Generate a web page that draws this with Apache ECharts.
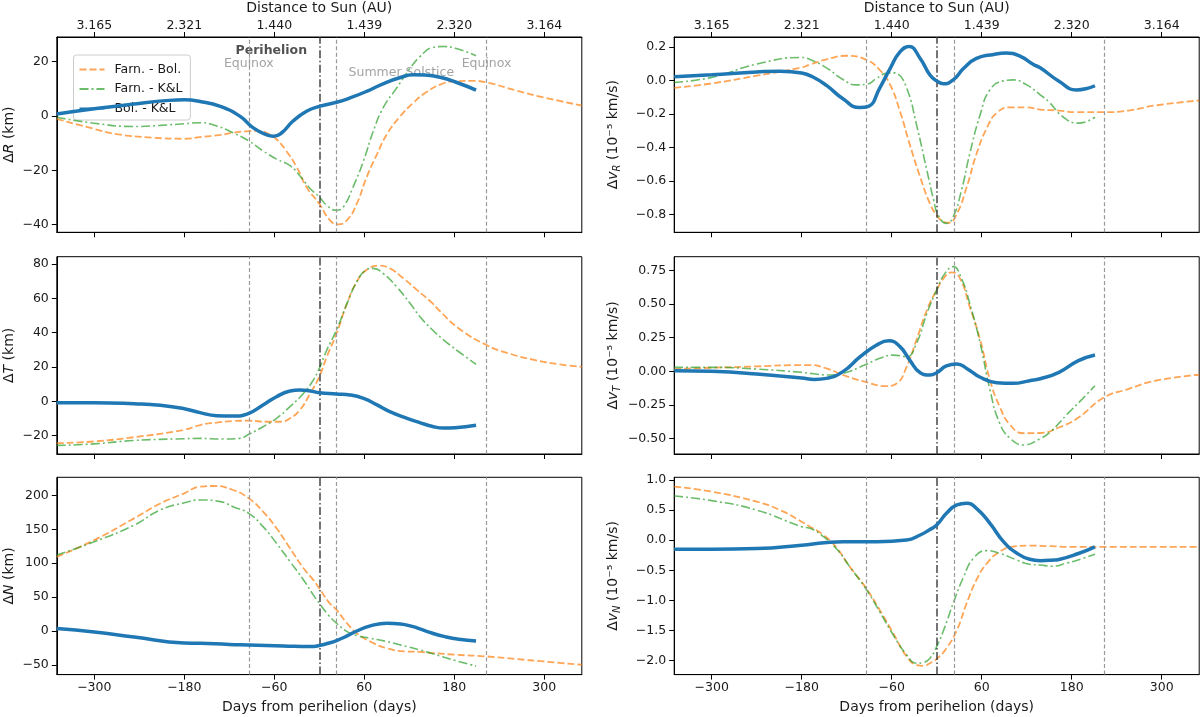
<!DOCTYPE html>
<html>
<head>
<meta charset="utf-8">
<title>Orbit differences around perihelion</title>
<script src="https://cdn.jsdelivr.net/npm/echarts@6/dist/echarts.min.js"></script>
<style>
html, body { margin: 0; padding: 0; background: #fff; }
#chart { width: 1200px; height: 717px; }
</style>
</head>
<body>
<div id="chart"></div>
<script>
// shared x ticks (days from perihelion) and the distance labels drawn on top
const dayTicks = [-300, -180, -60, 60, 180, 300]
const distLabels = ['3.165', '2.321', '1.440', '1.439', '2.320', '3.164']

// event dates in days from perihelion
const equinoxDays = [-94, 223]
const solsticeDay = 23
const perihelionDay = 0

const seriesNames = ['Farn. - Bol.', 'Farn. - K&L', 'Bol. - K&L']

// y ticks per panel
const rTicks = [-40, -20, 0, 20]
const tTicks = [-20, 0, 20, 40, 60, 80]
const nTicks = [-50, 0, 50, 100, 150, 200]
const vrTicks = [-0.8, -0.6, -0.4, -0.2, 0, 0.2]
const vtTicks = [-0.5, -0.25, 0, 0.25, 0.5, 0.75]
const vnTicks = [-2, -1.5, -1, -0.5, 0, 0.5, 1]

// ΔR (km), [day, value]
const farnBolR = [[-350,-1.1],[-300,-4.8],[-270,-6.7],[-222,-8.0],[-180,-8.4],[-159,-7.8],[-132,-7.0],[-115,-6.2],[-94,-5.6],[-80,-5.5],[-68,-6.6],[-57,-8.6],[-44,-12.9],[-30,-18.9],[-17,-26.2],[0,-32.3],[14,-38.3],[25,-39.9],[37,-38.3],[50,-32.3],[63,-22.6],[77,-14.1],[90,-6.8],[108,-0.1],[125,4.7],[140,8.2],[161,11.5],[181,12.7],[202,12.9],[223,12.3],[263,9.3],[299,6.8],[350,3.8]]
const farnKlR = [[-350,-0.5],[-300,-2.7],[-247,-3.9],[-212,-3.5],[-180,-2.9],[-159,-2.5],[-137,-3.7],[-115,-6.2],[-94,-9.2],[-75,-12.9],[-57,-15.9],[-39,-18.3],[-26,-22.0],[-12,-26.8],[0,-29.8],[10,-32.9],[23,-34.7],[32,-33.5],[45,-26.2],[59,-16.5],[72,-5.6],[85,2.9],[103,10.2],[121,17.5],[134,21.7],[151,25.1],[166,25.5],[186,24.5],[209,22.1]]
const bolKlR = [[-350,0.7],[-300,2.6],[-247,4.4],[-200,5.7],[-180,5.9],[-159,5.3],[-132,3.5],[-106,-0.1],[-88,-4.4],[-70,-7.0],[-61,-7.5],[-50,-6.2],[-35,-1.9],[-17,1.7],[0,3.5],[23,5.0],[41,6.6],[63,9.0],[85,11.8],[108,14.1],[125,15.1],[140,15.0],[161,14.2],[186,12.0],[209,9.5]]

// ΔT (km)
const farnBolT = [[-350,-24.4],[-300,-23.4],[-247,-20.9],[-180,-16.6],[-159,-13.8],[-137,-12.4],[-115,-11.5],[-94,-11.3],[-70,-11.9],[-52,-11.9],[-39,-9.9],[-26,-5.1],[-12,4.7],[0,14.4],[10,26],[23,39.6],[37,57.1],[50,69.7],[63,76.5],[79,79.1],[94,77.5],[112,71.7],[130,65],[150,57.5],[161,52.5],[186,42.5],[223,32.8],[253,27.9],[288,24],[319,21.6],[350,20.1]]
const farnKlT = [[-350,-25.7],[-300,-24.8],[-247,-22.8],[-180,-21.8],[-159,-21.6],[-128,-22],[-106,-21.6],[-94,-19.2],[-75,-14.8],[-57,-9.9],[-39,-3.1],[-21,4.7],[-8,12.4],[0,19.2],[10,29.9],[23,41.6],[37,57.1],[50,69.7],[61,76.2],[72,77.5],[85,74.6],[103,66.8],[121,57.1],[134,49.5],[150,42],[166,35.7],[186,28.9],[209,21.6]]
const bolKlT = [[-350,-0.8],[-300,-0.8],[-247,-1.4],[-212,-2.3],[-180,-4.3],[-159,-6.6],[-137,-8.4],[-115,-8.6],[-94,-7.0],[-75,-2.1],[-57,2.7],[-39,6.0],[-26,6.6],[-12,6.0],[0,5.0],[23,4.3],[41,3.7],[59,1.7],[77,-2.1],[94,-6.0],[117,-9.9],[134,-12.4],[150,-14.5],[166,-15.6],[181,-15.4],[209,-14]]

// ΔN (km)
const farnBolN = [[-350,109.4],[-300,134],[-247,166],[-212,188],[-180,203],[-159,212.8],[-141,213.8],[-115,207.9],[-94,195.6],[-75,176],[-57,151.4],[-39,121.9],[-21,92.5],[-8,75.3],[0,63],[12,43.3],[23,31],[37,11.4],[50,-3.3],[68,-15.6],[90,-25.4],[117,-30.3],[134,-30.8],[151,-32.5],[181,-35],[223,-37.5],[263,-41.4],[299,-44.9],[350,-49.8]]
const farnKlN = [[-350,112],[-300,131.6],[-247,156],[-212,178.5],[-180,189],[-159,193.2],[-132,190.7],[-115,183.3],[-94,173.5],[-75,153.9],[-57,129.3],[-39,102.3],[-21,75.3],[-8,53.2],[0,40.9],[12,23.7],[23,11.4],[37,-0.9],[50,-6.8],[68,-10.7],[90,-15.6],[117,-23],[134,-27.9],[151,-33.5],[181,-43.4],[209,-51.8]]
const bolKlN = [[-350,3.5],[-300,-1.5],[-247,-8.9],[-180,-17.7],[-159,-18.1],[-120,-19.8],[-94,-20.5],[-48,-22],[-12,-23],[0,-21.5],[12,-18.1],[23,-14.1],[37,-7.3],[50,0],[68,7.5],[90,11.4],[108,10.4],[125,6.4],[134,3],[150,-3],[166,-8],[186,-12.3],[209,-14.8]]

// Δv_R (1e-5 km/s)
const farnBolVR = [[-350,-0.045],[-300,-0.018],[-240,0.028],[-180,0.077],[-169,0.095],[-147,0.125],[-120,0.147],[-93,0.121],[-76,0.062],[-62,-0.027],[-49,-0.184],[-36,-0.381],[-22,-0.578],[-9,-0.736],[0,-0.805],[9,-0.844],[16,-0.85],[27,-0.795],[40,-0.637],[53,-0.44],[67,-0.283],[80,-0.194],[98,-0.161],[120,-0.161],[138,-0.174],[163,-0.18],[186,-0.19],[223,-0.19],[255,-0.18],[291,-0.15],[350,-0.12]]
const farnKlVR = [[-350,-0.012],[-300,0.018],[-240,0.097],[-180,0.137],[-169,0.125],[-147,0.075],[-125,0.005],[-107,-0.027],[-93,-0.023],[-80,0.013],[-67,0.042],[-57,0.045],[-53,0.042],[-40,-0.046],[-27,-0.263],[-13,-0.539],[-4,-0.716],[2,-0.805],[13,-0.854],[22,-0.815],[33,-0.657],[44,-0.44],[58,-0.204],[71,-0.056],[89,-0.003],[102,0.003],[120,-0.027],[138,-0.086],[150,-0.13],[169,-0.22],[189,-0.255],[211,-0.22]]
const bolKlVR = [[-350,0.022],[-300,0.034],[-240,0.05],[-209,0.055],[-180,0.044],[-165,0.02],[-147,-0.03],[-125,-0.11],[-103,-0.162],[-91,-0.155],[-76,-0.046],[-62,0.072],[-49,0.17],[-37,0.203],[-22,0.131],[-9,0.032],[0,-0.003],[9,-0.02],[22,0.003],[36,0.072],[53,0.131],[76,0.155],[93,0.163],[111,0.145],[129,0.095],[138,0.075],[163,-0.005],[186,-0.057],[199,-0.05],[211,-0.032]]

// Δv_T (1e-5 km/s)
const farnBolVT = [[-350,0.017],[-300,0.027],[-240,0.037],[-180,0.047],[-169,0.047],[-147,0.022],[-125,-0.027],[-96,-0.077],[-67,-0.109],[-53,-0.089],[-40,0.035],[-27,0.233],[-13,0.456],[0,0.605],[11,0.704],[20,0.736],[31,0.691],[44,0.481],[58,0.233],[71,-0.064],[84,-0.262],[98,-0.398],[116,-0.46],[138,-0.458],[163,-0.417],[189,-0.343],[223,-0.194],[255,-0.132],[291,-0.07],[350,-0.025]]
const farnKlVT = [[-350,0.03],[-300,0.03],[-240,0.017],[-180,-0.007],[-169,-0.015],[-142,-0.027],[-125,-0.015],[-96,0.047],[-76,0.097],[-58,0.121],[-40,0.109],[-27,0.208],[-13,0.431],[0,0.605],[11,0.728],[22,0.778],[33,0.691],[44,0.506],[58,0.208],[71,-0.138],[84,-0.386],[98,-0.498],[116,-0.547],[138,-0.5],[153,-0.442],[174,-0.318],[194,-0.206],[211,-0.107]]
const bolKlVT = [[-350,0.005],[-300,0],[-240,-0.02],[-180,-0.05],[-163,-0.06],[-147,-0.052],[-125,-0.002],[-102,0.109],[-80,0.196],[-64,0.228],[-49,0.184],[-36,0.084],[-22,-0.01],[-9,-0.027],[0,-0.01],[13,0.04],[27,0.055],[40,0.022],[58,-0.044],[80,-0.084],[102,-0.089],[124,-0.069],[138,-0.055],[163,-0.007],[189,0.08],[211,0.122]]

// Δv_N (1e-5 km/s)
const farnBolVN = [[-350,0.889],[-300,0.806],[-240,0.639],[-209,0.5],[-180,0.306],[-169,0.224],[-151,0.086],[-133,-0.135],[-116,-0.44],[-94,-0.799],[-76,-1.159],[-58,-1.547],[-40,-1.934],[-27,-2.072],[-18,-2.089],[-9,-2.044],[0,-1.972],[13,-1.795],[27,-1.491],[40,-1.048],[53,-0.661],[67,-0.384],[84,-0.191],[102,-0.108],[124,-0.09],[150,-0.1],[180,-0.111],[223,-0.111],[350,-0.111]]
const farnKlVN = [[-350,0.733],[-300,0.656],[-240,0.5],[-180,0.222],[-169,0.197],[-151,0.058],[-133,-0.152],[-116,-0.44],[-94,-0.816],[-76,-1.187],[-58,-1.574],[-40,-1.906],[-27,-2.044],[-18,-2.033],[-9,-1.961],[0,-1.768],[11,-1.436],[22,-1.048],[36,-0.606],[49,-0.301],[67,-0.174],[84,-0.218],[107,-0.329],[124,-0.401],[138,-0.412],[153,-0.433],[174,-0.378],[194,-0.306],[211,-0.233]]
const bolKlVN = [[-350,-0.15],[-300,-0.15],[-240,-0.139],[-180,-0.083],[-150,-0.044],[-125,-0.025],[-80,-0.025],[-40,0.003],[-22,0.086],[-10,0.169],[0,0.252],[13,0.446],[27,0.584],[40,0.612],[53,0.529],[71,0.28],[89,-0.025],[107,-0.218],[124,-0.318],[138,-0.34],[153,-0.333],[163,-0.32],[189,-0.222],[211,-0.111]]

// text notes in the first panel
const notes = [
	{ text: 'Perihelion', day: -64, value: 23.8, align: 'center', bold: true },
	{ text: 'Equinox', day: -94, value: 19.1, align: 'center' },
	{ text: 'Summer Solstice', day: 39, value: 15.8, align: 'left' },
	{ text: 'Equinox', day: 223, value: 19.1, align: 'center' },
]

const FONT = 'DejaVu Sans'
const TXT = '#1a1a1a'

const panels = [
	{ col: 0, row: 0, name: 'Δ{it|R} (km)', data: [farnBolR, farnKlR, bolKlR], min: -42.8, max: 29.0, ticks: rTicks, dec: 0 },
	{ col: 0, row: 1, name: 'Δ{it|T} (km)', data: [farnBolT, farnKlT, bolKlT], min: -30.7, max: 84.3, ticks: tTicks, dec: 0 },
	{ col: 0, row: 2, name: 'Δ{it|N} (km)', data: [farnBolN, farnKlN, bolKlN], min: -64.3, max: 226.6, ticks: nTicks, dec: 0 },
	{ col: 1, row: 0, name: 'Δ{it|v}{sub|R} (10⁻⁵ km/s)', data: [farnBolVR, farnKlVR, bolKlVR], min: -0.907, max: 0.259, ticks: vrTicks, dec: 1 },
	{ col: 1, row: 1, name: 'Δ{it|v}{sub|T} (10⁻⁵ km/s)', data: [farnBolVT, farnKlVT, bolKlVT], min: -0.614, max: 0.852, ticks: vtTicks, dec: 2 },
	{ col: 1, row: 2, name: 'Δ{it|v}{sub|N} (10⁻⁵ km/s)', data: [farnBolVN, farnKlVN, bolKlVN], min: -2.233, max: 1.044, ticks: vnTicks, dec: 1 },
]

const colLeft = [56.8, 674.2]
const rowTop = [35, 256.7, 477.3]
const plotW = 525
const plotH = 197.3

const lineStyles = [
	{ color: '#ff7f0e', width: 1.8, type: [7, 3], opacity: 0.7 },
	{ color: '#2ca02c', width: 1.6, type: [9, 3, 2, 3], opacity: 0.7 },
	{ color: '#1f77b4', width: 3.5, type: 'solid', opacity: 1 },
]

const fmt = (v, dec) => v.toFixed(dec).replace('-', '\u2212')

const nameRich = {
	it: { fontStyle: 'italic', fontSize: 14, fontFamily: FONT, color: TXT },
	sub: { fontStyle: 'italic', fontSize: 10, fontFamily: FONT, color: TXT, padding: [7, 0, 0, 0] },
}

const grid = []
const xAxis = []
const yAxis = []
const series = []

const vLine = (day, dark) => ({
	xAxis: day,
	lineStyle: dark
		? { color: '#333', width: 1.5, type: [8, 2.5, 1.5, 2.5], opacity: 0.9 }
		: { color: '#999', width: 1.2, type: [4, 2.5] },
})

panels.forEach((p, i) => {
	grid.push({
		left: colLeft[p.col],
		top: rowTop[p.row],
		width: plotW,
		height: plotH,
		show: true,
		borderColor: '#000',
		borderWidth: 1,
	})

	xAxis.push({
		gridIndex: i,
		type: 'value',
		position: 'bottom',
		min: -350,
		max: 350,
		axisLine: { show: true, onZero: false, lineStyle: { color: '#000' } },
		axisTick: { show: true, length: 5, customValues: dayTicks, lineStyle: { color: '#000' } },
		axisLabel: { show: p.row === 2, customValues: dayTicks, margin: 7, fontSize: 12.5, fontFamily: FONT, color: TXT, formatter: (v) => fmt(v, 0) },
		splitLine: { show: false },
		name: p.row === 2 ? 'Days from perihelion (days)' : '',
		nameLocation: 'middle',
		nameGap: 26,
		nameTextStyle: { fontSize: 14, fontFamily: FONT, color: TXT },
	})

	yAxis.push({
		gridIndex: i,
		type: 'value',
		min: p.min,
		max: p.max,
		axisLine: { show: true, onZero: false, lineStyle: { color: '#000' } },
		axisTick: { show: true, length: 5, customValues: p.ticks, lineStyle: { color: '#000' } },
		axisLabel: { customValues: p.ticks, margin: 8, fontSize: 12.5, fontFamily: FONT, color: TXT, formatter: (v) => fmt(v, p.dec) },
		splitLine: { show: false },
		name: p.name,
		nameLocation: 'middle',
		nameGap: p.col === 0 ? 40 : 52,
		nameTextStyle: { fontSize: 14, fontFamily: FONT, color: TXT, rich: nameRich },
	})

	p.data.forEach((d, k) => {
		series.push({
			type: 'line',
			name: seriesNames[k],
			xAxisIndex: i,
			yAxisIndex: i,
			data: d,
			symbol: 'none',
			showSymbol: false,
			smooth: 0.5,
			lineStyle: lineStyles[k],
			itemStyle: { color: lineStyles[k].color },
			z: 3 + k,
			silent: true,
		})
	})

	// vertical event lines
	series.push({
		type: 'line',
		xAxisIndex: i,
		yAxisIndex: i,
		data: [],
		z: 2,
		silent: true,
		markLine: {
			silent: true,
			symbol: ['none', 'none'],
			label: { show: false },
			data: [vLine(equinoxDays[0]), vLine(perihelionDay, true), vLine(solsticeDay), vLine(equinoxDays[1])],
		},
	})
})

// distance axis along the top of the upper panels
;[0, 3].forEach((gi) => {
	xAxis.push({
		gridIndex: gi,
		type: 'value',
		position: 'top',
		min: -350,
		max: 350,
		axisLine: { show: true, onZero: false, lineStyle: { color: '#000' } },
		axisTick: { show: true, length: 5, customValues: dayTicks, lineStyle: { color: '#000' } },
		axisLabel: { customValues: dayTicks, margin: 5, fontSize: 12.5, fontFamily: FONT, color: TXT, formatter: (v) => distLabels[dayTicks.indexOf(v)] },
		splitLine: { show: false },
		name: 'Distance to Sun (AU)',
		nameLocation: 'middle',
		nameGap: 22,
		nameTextStyle: { fontSize: 14, fontFamily: FONT, color: TXT },
	})
})

series.push({
	type: 'scatter',
	xAxisIndex: 0,
	yAxisIndex: 0,
	symbolSize: 0,
	z: 1,
	silent: true,
	data: notes.map((n) => ({
		value: [n.day, n.value],
		label: {
			show: true,
			position: 'inside',
			formatter: n.text,
			align: n.align,
			verticalAlign: 'middle',
			fontSize: 12.5,
			fontFamily: FONT,
			fontWeight: n.bold ? 'bold' : 'normal',
			color: n.bold ? '#262626' : '#8c8c8c',
		},
	})),
})

var myChart = echarts.init(document.getElementById('chart'))
var option = {
	animation: false,
	backgroundColor: '#fff',
	grid: grid,
	xAxis: xAxis,
	yAxis: yAxis,
	legend: {
		data: seriesNames,
		orient: 'vertical',
		left: 73.5,
		top: 55,
		itemWidth: 25,
		itemHeight: 12,
		itemGap: 6.5,
		padding: [8, 8, 5, 5],
		backgroundColor: 'rgba(255,255,255,0.8)',
		borderColor: '#ccc',
		borderWidth: 1,
		borderRadius: 3,
		selectedMode: false,
		itemStyle: { opacity: 0 },
		textStyle: { fontSize: 12.5, fontFamily: FONT, color: TXT, padding: [0, 0, 0, 5] },
	},
	series: series,
}
option && myChart.setOption(option)
</script>
</body>
</html>
